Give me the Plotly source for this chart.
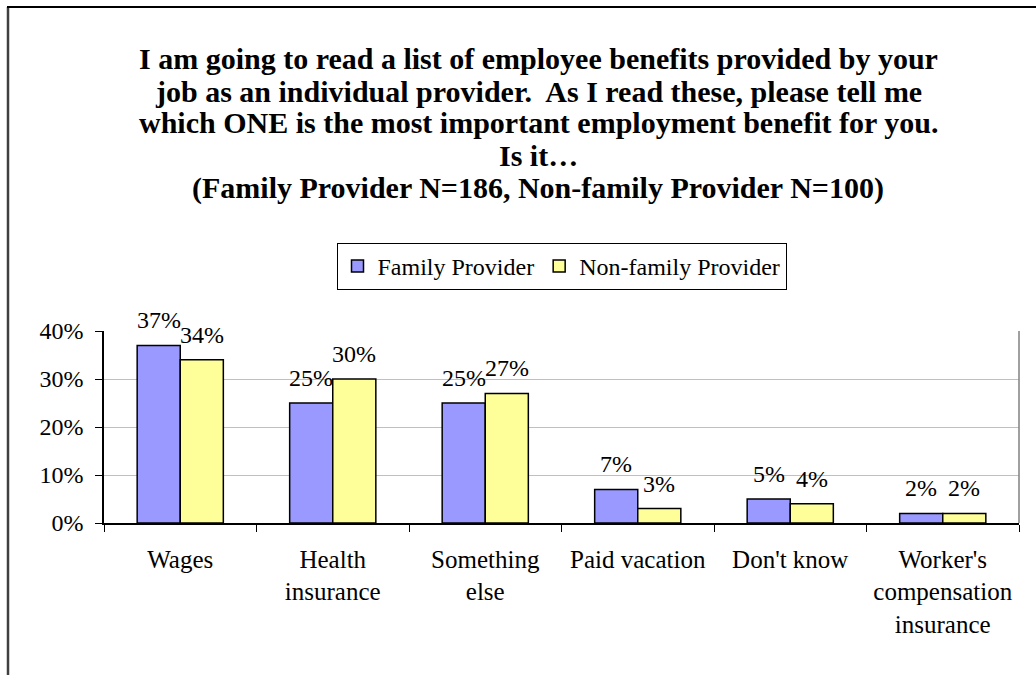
import plotly.graph_objects as go

categories = ["Wages", "Health<br>insurance", "Something<br>else", "Paid vacation",
              "Don't know", "Worker's<br>compensation<br>insurance"]
family = [0.37, 0.25, 0.25, 0.07, 0.05, 0.02]
nonfamily = [0.34, 0.30, 0.27, 0.03, 0.04, 0.02]
y_ticks = [0, 0.1, 0.2, 0.3, 0.4]

title_lines = ["I am going to read a list of employee benefits provided by your",
               "job as an individual provider.  As I read these, please tell me",
               "which ONE is the most important employment benefit for you.",
               "Is it…",
               "(Family Provider N=186, Non-family Provider N=100)"]

SERIF = "Liberation Serif"
W, H = 1036, 675
L, R, T, B = 104, 17, 331, 152
PW, PH = W - L - R, H - T - B
BARGAP = 0.435

def px_x(p):
    return (p - L) / PW

def px_y(p):
    return (H - B - p) / PH

fig = go.Figure()
fig.add_trace(go.Bar(
    name="Family Provider", x=categories, y=family,
    marker=dict(color="#9999FF", line=dict(color="black", width=1.5)),
))
fig.add_trace(go.Bar(
    name="Non-family Provider", x=categories, y=nonfamily,
    marker=dict(color="#FFFF99", line=dict(color="black", width=1.5)),
))

annotations = []
# title, one annotation per line to mimic the tight line spacing
title_y = [58, 91, 123, 155, 188]
for line, yy in zip(title_lines, title_y):
    annotations.append(dict(text="<b>" + line + "</b>", xref="paper", yref="paper",
                            x=px_x(538), y=px_y(yy), xanchor="center", yanchor="middle",
                            showarrow=False, font=dict(family=SERIF, size=30, color="black")))

# data labels above bars
half_bar = PW / len(categories) * (1 - BARGAP) / 4
for series, shift in ((family, -half_bar), (nonfamily, half_bar)):
    for cat, v in zip(categories, series):
        annotations.append(dict(text=f"{v:.0%}", xref="x", yref="y", x=cat, y=v,
                                xshift=shift, yshift=25, xanchor="center", yanchor="middle",
                                showarrow=False,
                                font=dict(family=SERIF, size=24, color="black")))

fig.update_layout(
    width=W, height=H,
    margin=dict(l=L, r=R, t=T, b=B, autoexpand=False),
    paper_bgcolor="white", plot_bgcolor="white",
    barmode="group", bargap=BARGAP, bargroupgap=0,
    font=dict(family=SERIF, size=24, color="black"),
    showlegend=True,
    legend=dict(orientation="h", x=0.5, xanchor="center", y=px_y(243), yanchor="top",
                bordercolor="black", borderwidth=1, bgcolor="white",
                font=dict(family=SERIF, size=24, color="black"),
                itemwidth=30, traceorder="normal"),
    xaxis=dict(showline=True, linecolor="black", linewidth=1.5,
               ticks="outside", tickson="boundaries", ticklen=7, tickcolor="black",
               tickfont=dict(family=SERIF, size=25, color="black"),
               ticklabelstandoff=13,
               showgrid=False),
    yaxis=dict(range=[0, 0.4], tickvals=y_ticks, tickformat=".0%",
               showline=True, linecolor="black", linewidth=1.5,
               ticks="outside", ticklen=7, tickcolor="black",
               ticklabelstandoff=7,
               showgrid=True, gridcolor="#C0C0C0", gridwidth=1,
               zeroline=False,
               tickfont=dict(family=SERIF, size=24, color="black")),
    annotations=annotations,
    shapes=[
        dict(type="line", xref="paper", yref="paper", x0=1, x1=1, y0=0, y1=1,
             line=dict(color="#808080", width=1.5)),
        dict(type="line", xref="paper", yref="paper", x0=px_x(8), x1=px_x(8),
             y0=px_y(7), y1=px_y(H + 5), line=dict(color="#404040", width=2.5)),
        dict(type="line", xref="paper", yref="paper", x0=px_x(7), x1=px_x(W + 5),
             y0=px_y(7), y1=px_y(7), line=dict(color="black", width=2)),
    ],
)

fig.write_html("out.html")
